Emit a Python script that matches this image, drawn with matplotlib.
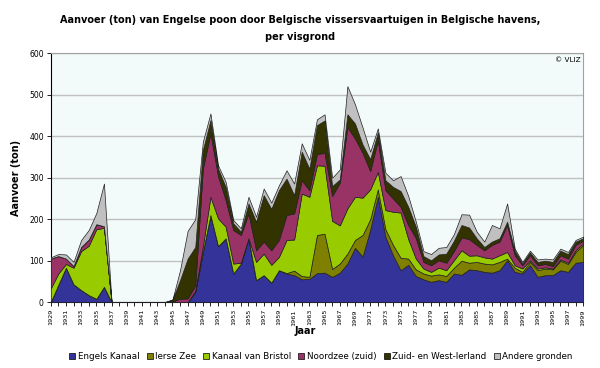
import numpy as np
import matplotlib.pyplot as plt
from matplotlib.patches import Patch

# Jaren 1929-1999
jaren = list(range(1929, 2000))

# Aanvoer (ton) per visgrond
engels_kanaal = [0, 42, 83, 43, 29, 17, 8, 37, 0, 0, 0, 0, 0, 0, 0, 0, 0, 0, 0, 25,
                 121, 210, 135, 154, 69, 93, 154, 53, 65, 47, 77, 69, 65, 55, 56, 70, 71,
                 61, 71, 93, 131, 110, 175, 254, 158, 113, 77, 90, 63, 55, 49, 53, 49, 69,
                 66, 79, 77, 73, 71, 77, 101, 73, 69, 89, 61, 65, 65, 77, 73, 95, 97]
ierse_zee = [0, 0, 0, 0, 0, 0, 0, 0, 0, 0, 0, 0, 0, 0, 0, 0, 0, 0, 0, 0,
             0, 0, 0, 0, 0, 0, 0, 0, 0, 0, 0, 1, 11, 8, 5, 92, 94,
             19, 22, 24, 19, 52, 25, 18, 18, 25, 30, 15, 16, 14, 15, 14, 14, 14,
             34, 16, 20, 20, 20, 20, 4, 10, 4, 8, 16, 16, 14, 23, 19, 26, 41]
kanaal_bristol = [33, 27, 9, 40, 94, 119, 168, 142, 0, 0, 0, 0, 0, 0, 0, 0, 2, 0, 0, 2,
                  13, 44, 67, 28, 24, 2, 0, 44, 52, 43, 32, 80, 75, 199, 193, 168, 164,
                  116, 92, 109, 104, 90, 72, 42, 46, 80, 109, 47, 26, 12, 9, 16, 14, 18,
                  25, 17, 16, 15, 14, 16, 16, 6, 8, 4, 4, 3, 2, 3, 3, 4, 4]
noordzee_zuid = [72, 42, 13, 4, 10, 15, 12, 4, 0, 0, 0, 0, 0, 0, 0, 0, 0, 8, 9, 13,
                 188, 153, 102, 64, 81, 67, 60, 28, 29, 35, 41, 60, 63, 32, 16, 27, 31,
                 60, 103, 196, 141, 108, 44, 76, 48, 32, 14, 34, 49, 16, 16, 18, 18, 22,
                 31, 40, 25, 17, 33, 33, 65, 24, 8, 12, 8, 8, 6, 10, 10, 13, 6]
zuid_west_ierland = [0, 0, 0, 0, 0, 0, 0, 0, 0, 0, 0, 0, 0, 0, 0, 0, 4, 45, 96, 93,
                     45, 32, 18, 32, 16, 8, 24, 69, 112, 100, 120, 88, 44, 69, 52, 70, 78,
                     24, 8, 31, 36, 20, 29, 19, 24, 28, 38, 44, 28, 14, 12, 14, 22, 25,
                     30, 28, 16, 8, 8, 8, 8, 11, 4, 7, 8, 8, 10, 11, 11, 8, 6]
andere_gronden = [3, 5, 10, 10, 17, 23, 27, 103, 0, 0, 0, 0, 0, 0, 0, 0, 0, 24, 67, 67,
                  20, 16, 8, 12, 8, 8, 16, 12, 16, 15, 12, 20, 28, 20, 21, 14, 15,
                  20, 24, 68, 46, 41, 18, 10, 18, 16, 36, 26, 12, 12, 15, 16, 16, 16,
                  26, 31, 16, 13, 40, 24, 44, 5, 4, 4, 6, 5, 6, 5, 5, 4, 4]

namen = ['Engels Kanaal', 'Ierse Zee', 'Kanaal van Bristol', 'Noordzee (zuid)',
         'Zuid- en West-Ierland', 'Andere gronden']
kleuren = ['#333399', '#808000', '#99cc00', '#993366', '#333300', '#c0c0c0']

plt.rcParams['font.family'] = ['DejaVu Sans']

fig = plt.figure(figsize=(6.0, 3.68), dpi=100)
ax = fig.add_axes([0.0845, 0.179, 0.8875, 0.676])
ax.set_facecolor('#f2fafa')

ax.stackplot(jaren, engels_kanaal, ierse_zee, kanaal_bristol, noordzee_zuid,
             zuid_west_ierland, andere_gronden, colors=kleuren,
             edgecolor='#202020', linewidth=0.5, zorder=3)

ax.set_xlim(1929, 1999)
ax.set_ylim(0, 600)
ax.set_yticks(range(0, 601, 100))
ax.yaxis.grid(True, color='#c0c0c0', linewidth=1.0, zorder=1)
ax.set_axisbelow(True)

ax.set_xticks(jaren)
ax.set_xticklabels([str(j) if (j - 1929) % 2 == 0 else '' for j in jaren],
                   rotation=90, fontsize=4.6)
ax.tick_params(axis='x', length=3, width=0.6, pad=2)
ax.tick_params(axis='y', length=3, width=0.6, labelsize=5.5, pad=2)

for kant in ['top', 'right']:
    ax.spines[kant].set_color('#a0a0a0')
for kant in ['left', 'bottom']:
    ax.spines[kant].set_color('black')
    ax.spines[kant].set_linewidth(0.8)

ax.set_xlabel('Jaar', fontsize=7, fontweight='bold')
ax.xaxis.set_label_coords(0.478, -0.095)
ax.set_ylabel('Aanvoer (ton)', fontsize=7, fontweight='bold')
ax.yaxis.set_label_coords(-0.055, 0.5)

fig.text(0.5, 0.923, 'Aanvoer (ton) van Engelse poon door Belgische vissersvaartuigen in Belgische havens,\nper visgrond',
         ha='center', va='center', fontsize=7.0, fontweight='bold', linespacing=1.8)

ax.text(0.995, 0.985, '© VLIZ', transform=ax.transAxes, ha='right', va='top', fontsize=5.2)

handles = [Patch(facecolor=k, edgecolor='black', linewidth=0.5) for k in kleuren]
fig.legend(handles, namen, loc='center', bbox_to_anchor=(0.535, 0.032), ncol=6,
           frameon=False, fontsize=6.3, handlelength=0.7, handleheight=0.7,
           handletextpad=0.3, columnspacing=0.8)

plt.savefig('out.png', dpi=100)
